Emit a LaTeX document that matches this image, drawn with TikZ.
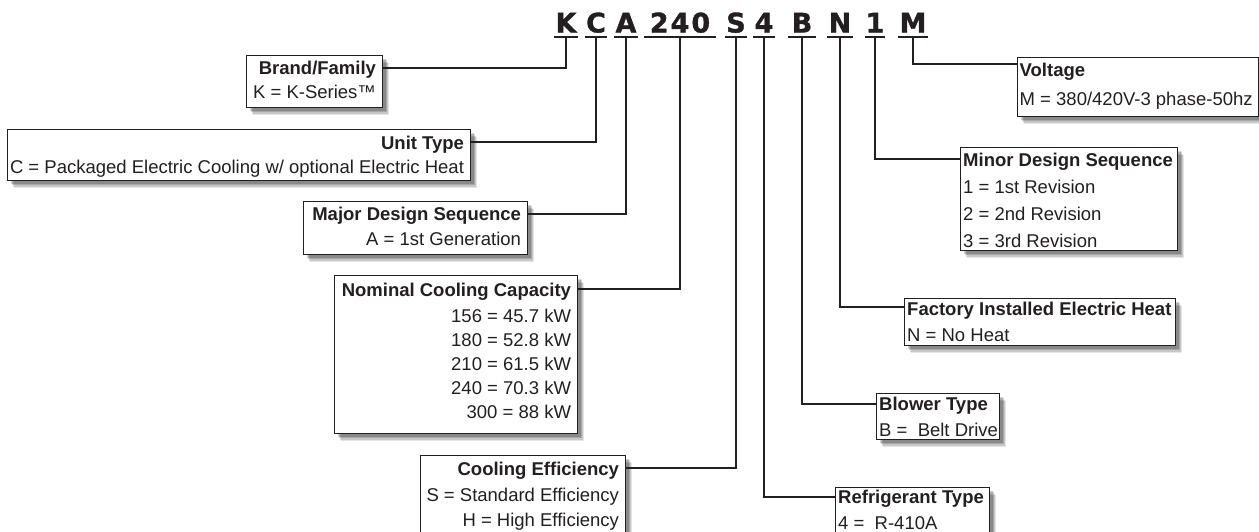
\documentclass[tikz,border=0pt]{standalone}
\usepackage{fontspec}
\setmainfont{Liberation Sans}
\newfontfamily\codefont{DejaVu Sans Bold}[FakeBold=1.2]
\usetikzlibrary{calc}
\definecolor{ink}{HTML}{231F20}
\tikzset{
  conn/.style={draw=ink, line width=2.3pt},
  uline/.style={draw=ink, line width=2pt},
  code/.style={font=\codefont\fontsize{27}{27}\selectfont, text=ink, inner sep=0pt, anchor=base, text depth=0pt},
  shd/.style={
    preaction={fill=black, fill opacity=0.10, transform canvas={xshift=6pt, yshift=-7.5pt}},
    preaction={fill=black, fill opacity=0.13, transform canvas={xshift=5pt, yshift=-6pt}},
    preaction={fill=black, fill opacity=0.16, transform canvas={xshift=4pt, yshift=-4.5pt}},
    preaction={fill=black, fill opacity=0.18, transform canvas={xshift=3pt, yshift=-3pt}}},
  infobox/.style={shd, draw=ink, line width=1.2pt, fill=white, anchor=north west, inner sep=0pt},
  ttl/.style={font=\bfseries\fontsize{18.5}{22}\selectfont, text=ink, inner sep=0pt},
  row/.style={font=\fontsize{18.5}{22}\selectfont, text=ink, inner sep=0pt},
}
\begin{document}
\begin{tikzpicture}[x=1pt, y=-1pt]
\useasboundingbox (0,0) rectangle (1259,531);
\clip (0,0) rectangle (1259,531);

% code letters
\node[code, minimum width=23pt] (k) at (566,32.5) {K};
\node[code, minimum width=22pt] (c) at (596,32.5) {C};
\node[code, minimum width=23pt] (a) at (626,32.5) {A};
\node[code, minimum width=72pt] (cap) at (680,32.5) {2\hspace{2pt}4\hspace{2pt}0};
\node[code, minimum width=21pt] (s) at (736,32.5) {S};
\node[code, minimum width=22pt] (four) at (764,32.5) {4};
\node[code, minimum width=27pt] (b) at (802,32.5) {B};
\node[code, minimum width=26pt] (n) at (840,32.5) {N};
\node[code, minimum width=14pt] (one) at (875,32.5) {1};
\node[code, minimum width=30pt] (m) at (913,32.5) {M};
\foreach \l in {k,c,a,cap,s,four,b,n,one,m}{
  \draw[uline] ([yshift=-4pt]\l.south west) -- ([yshift=-4pt]\l.south east);
}

% boxes (left side)
\node[infobox, minimum width=136pt, minimum height=52pt] (brand) at (246,55) {};
\node[infobox, minimum width=463pt, minimum height=51pt] (unit) at (7,129) {};
\node[infobox, minimum width=224pt, minimum height=53pt] (major) at (303,201) {};
\node[infobox, minimum width=243pt, minimum height=158pt] (nominal) at (334,275) {};
\node[infobox, minimum width=205pt, minimum height=82pt] (eff) at (420,455) {};
% boxes (right side)
\node[infobox, minimum width=241pt, minimum height=59pt] (volt) at (1017,57) {};
\node[infobox, minimum width=217pt, minimum height=103pt] (minor) at (960,147) {};
\node[infobox, minimum width=271pt, minimum height=47pt] (heat) at (904,298) {};
\node[infobox, minimum width=123pt, minimum height=46pt] (blower) at (876,393) {};
\node[infobox, minimum width=154pt, minimum height=62pt] (refr) at (835,487) {};

% connectors
\draw[conn] ([yshift=-4pt]k.south) |- ($(brand.north east)+(0,13)$);
\draw[conn] ([yshift=-4pt]c.south) |- ($(unit.north east)+(0,13)$);
\draw[conn] ([yshift=-4pt]a.south) |- ($(major.north east)+(0,13)$);
\draw[conn] ([yshift=-4pt]cap.south) |- ($(nominal.north east)+(0,14)$);
\draw[conn] ([yshift=-4pt]s.south) |- ($(eff.north east)+(0,13)$);
\draw[conn] ([yshift=-4pt]four.south) |- ($(refr.north west)+(0,10)$);
\draw[conn] ([yshift=-4pt]b.south) |- ($(blower.north west)+(0,11)$);
\draw[conn] ([yshift=-4pt]n.south) |- ($(heat.north west)+(0,9)$);
\draw[conn] ([yshift=-4pt]one.south) |- ($(minor.north west)+(0,12)$);
\draw[conn] ([yshift=-4pt]m.south) |- ($(volt.north west)+(0,7)$);

% texts left (right aligned)
\node[ttl, anchor=base east] (brandT) at ($(brand.north east)+(-7,19.6)$) {Brand/Family};
\node[row, anchor=base east] (brandR) at ($(brand.north east)+(-7,43.6)$) {K = K-Series™};

\node[ttl, anchor=base east] (unitT) at ($(unit.north east)+(-7,20.6)$) {Unit Type};
\node[row, anchor=base east] (unitR) at ($(unit.north east)+(-7,44.6)$) {C = Packaged Electric Cooling w/ optional Electric Heat};

\node[ttl, anchor=base east] (majorT) at ($(major.north east)+(-7,19.6)$) {Major Design Sequence};
\node[row, anchor=base east] (majorR) at ($(major.north east)+(-7,44.6)$) {A = 1st Generation};

\node[ttl, anchor=base east] (nomT) at ($(nominal.north east)+(-7,21.6)$) {Nominal Cooling Capacity};
\node[row, anchor=base east] (nomA) at ($(nominal.north east)+(-7,47.6)$) {156 = 45.7 kW};
\node[row, anchor=base east] (nomB) at ($(nominal.north east)+(-7,71.6)$) {180 = 52.8 kW};
\node[row, anchor=base east] (nomC) at ($(nominal.north east)+(-7,95.6)$) {210 = 61.5 kW};
\node[row, anchor=base east] (nomD) at ($(nominal.north east)+(-7,119.6)$) {240 = 70.3 kW};
\node[row, anchor=base east] (nomE) at ($(nominal.north east)+(-7,143.6)$) {300 = 88 kW};

\node[ttl, anchor=base east] (effT) at ($(eff.north east)+(-7,20.6)$) {Cooling Efficiency};
\node[row, anchor=base east] (effA) at ($(eff.north east)+(-7,46.6)$) {S = Standard Efficiency};
\node[row, anchor=base east] (effB) at ($(eff.north east)+(-7,71.6)$) {H = High Efficiency};

% texts right (left aligned)
\node[ttl, anchor=base west] (voltT) at ($(volt.north west)+(2.5,19.6)$) {Voltage};
\node[row, anchor=base west] (voltR) at ($(volt.north west)+(2.5,48.6)$) {M = 380/420V-3 phase-50hz};

\node[ttl, anchor=base west] (minorT) at ($(minor.north west)+(3,19.6)$) {Minor Design Sequence};
\node[row, anchor=base west] (minorA) at ($(minor.north west)+(3,46.6)$) {1 = 1st Revision};
\node[row, anchor=base west] (minorB) at ($(minor.north west)+(3,73.6)$) {2 = 2nd Revision};
\node[row, anchor=base west] (minorC) at ($(minor.north west)+(3,100.6)$) {3 = 3rd Revision};

\node[ttl, anchor=base west] (heatT) at ($(heat.north west)+(3,17.6)$) {Factory Installed Electric Heat};
\node[row, anchor=base west] (heatR) at ($(heat.north west)+(3,43.6)$) {N = No Heat};

\node[ttl, anchor=base west] (blowerT) at ($(blower.north west)+(3,17.6)$) {Blower Type};
\node[row, anchor=base west] (blowerR) at ($(blower.north west)+(3,43.6)$) {B = \ Belt Drive};

\node[ttl, anchor=base west] (refrT) at ($(refr.north west)+(3,16.6)$) {Refrigerant Type};
\node[row, anchor=base west] (refrR) at ($(refr.north west)+(3,42.6)$) {4 = \ R-410A};
\end{tikzpicture}
\end{document}
